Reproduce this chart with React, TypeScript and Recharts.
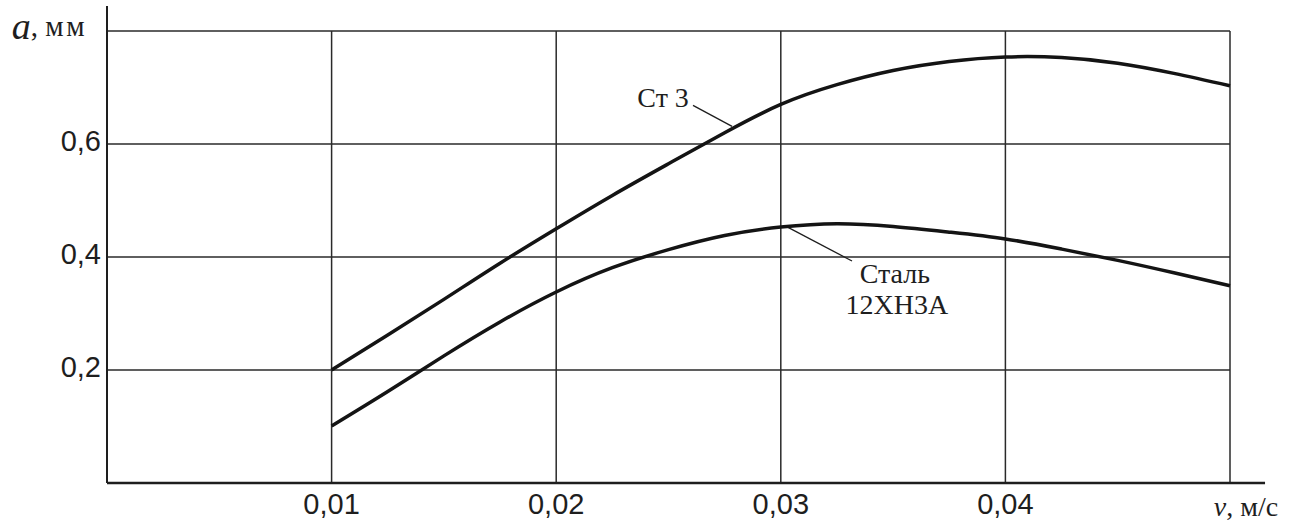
import {
  LineChart,
  Line,
  XAxis,
  YAxis,
  CartesianGrid,
  ReferenceLine,
  ReferenceDot,
} from "recharts";

// скорость, м/с
const velocity = [
  0.01, 0.0125, 0.015, 0.0175, 0.02, 0.0225, 0.025, 0.0275, 0.03, 0.0325,
  0.035, 0.0375, 0.04, 0.0425, 0.045, 0.0475, 0.05,
];
// Ст 3, мм
const st3 = [
  0.2, 0.262, 0.325, 0.389, 0.45, 0.509, 0.565, 0.62, 0.67, 0.705, 0.73,
  0.746, 0.754, 0.753, 0.743, 0.725, 0.703,
];
// Сталь 12ХН3А, мм
const steel12 = [
  0.101, 0.162, 0.225, 0.285, 0.338, 0.381, 0.413, 0.438, 0.453, 0.459,
  0.454, 0.444, 0.432, 0.414, 0.394, 0.372, 0.349,
];

const xTicks = [0.01, 0.02, 0.03, 0.04, 0.05];
const yTicks = [0.2, 0.4, 0.6, 0.8];

const labels = [
  { x: 0.02476, y: 0.6827, text: "Ст 3" },
  { x: 0.03508, y: 0.3716, text: "Сталь" },
  { x: 0.03517, y: 0.3164, text: "12ХН3А" },
];
const pointers = [
  [
    { x: 0.02609, y: 0.6684 },
    { x: 0.02783, y: 0.6311 },
  ],
  [
    { x: 0.03028, y: 0.4533 },
    { x: 0.03317, y: 0.3929 },
  ],
];

const data = velocity.map((v, i) => ({ v, st3: st3[i], steel12: steel12[i] }));

const SANS = "'Liberation Sans', Arial, sans-serif";
const SERIF = "'Liberation Serif', 'Times New Roman', serif";
const INK = "#1e1e1e";

function XTick({ x, y, payload }: any) {
  if (payload.value === 0.05) {
    return (
      <text x={x + 16} y={y + 15} textAnchor="middle" fontFamily={SERIF} fontSize={28} fill={INK} dominantBaseline="central">
        <tspan fontStyle="italic">v</tspan>, м/с
      </text>
    );
  }
  return (
    <text x={x} y={y + 13} textAnchor="middle" fontFamily={SANS} fontSize={29} fill={INK} dominantBaseline="central">
      {String(payload.value).replace(".", ",")}
    </text>
  );
}

function YTick({ x, y, payload }: any) {
  if (payload.value === 0.8) {
    return (
      <text x={x - 12} y={y - 5} textAnchor="end" fontFamily={SERIF} fontSize={29} fill={INK} dominantBaseline="central">
        <tspan fontStyle="italic" fontSize={38}>a</tspan>
        <tspan>, </tspan>
        <tspan letterSpacing={2.5}>мм</tspan>
      </text>
    );
  }
  return (
    <text x={x + 2} y={y - 3} textAnchor="end" fontFamily={SANS} fontSize={29} fill={INK} dominantBaseline="central">
      {String(payload.value).replace(".", ",")}
    </text>
  );
}

export default function App() {
  return (
    <div style={{ position: "absolute", left: 0, top: 0, background: "#fff" }}>
      <LineChart
        width={1299}
        height={525}
        data={data}
        margin={{ top: 31, right: 69, left: 0, bottom: 0 }}
      >
        <CartesianGrid stroke="#2a2a2a" strokeWidth={1.5} />
        <XAxis
          dataKey="v"
          type="number"
          domain={[0, 0.05]}
          ticks={xTicks}
          height={42}
          tickLine={false}
          axisLine={{ stroke: INK, strokeWidth: 2.5 }}
          tick={<XTick />}
          interval={0}
        />
        <YAxis
          type="number"
          domain={[0, 0.8]}
          ticks={yTicks}
          width={107}
          tickLine={false}
          axisLine={{ stroke: INK, strokeWidth: 2 }}
          tick={<YTick />}
          interval={0}
        />
        <ReferenceLine
          segment={[
            { x: 0.05, y: 0 },
            { x: 0.05156, y: 0 },
          ]}
          stroke={INK}
          strokeWidth={2.5}
          ifOverflow="visible"
        />
        <ReferenceLine
          segment={[
            { x: 0, y: 0.8 },
            { x: 0, y: 0.8444 },
          ]}
          stroke={INK}
          strokeWidth={2}
          ifOverflow="visible"
        />
        {pointers.map((seg, i) => (
          <ReferenceLine key={i} segment={seg} stroke={INK} strokeWidth={1.3} ifOverflow="visible" />
        ))}
        <Line
          type="natural"
          dataKey="st3"
          stroke="#141414"
          strokeWidth={3.5}
          dot={false}
          isAnimationActive={false}
        />
        <Line
          type="natural"
          dataKey="steel12"
          stroke="#141414"
          strokeWidth={3.5}
          dot={false}
          isAnimationActive={false}
        />
        {labels.map((l) => (
          <ReferenceDot
            key={l.text}
            x={l.x}
            y={l.y}
            r={0}
            ifOverflow="visible"
            shape={(p: any) => (
              <text x={p.cx} y={p.cy} textAnchor="middle" dominantBaseline="central" fontFamily={SERIF} fontSize={28} fill={INK}>
                {l.text}
              </text>
            )}
          />
        ))}
      </LineChart>
    </div>
  );
}
